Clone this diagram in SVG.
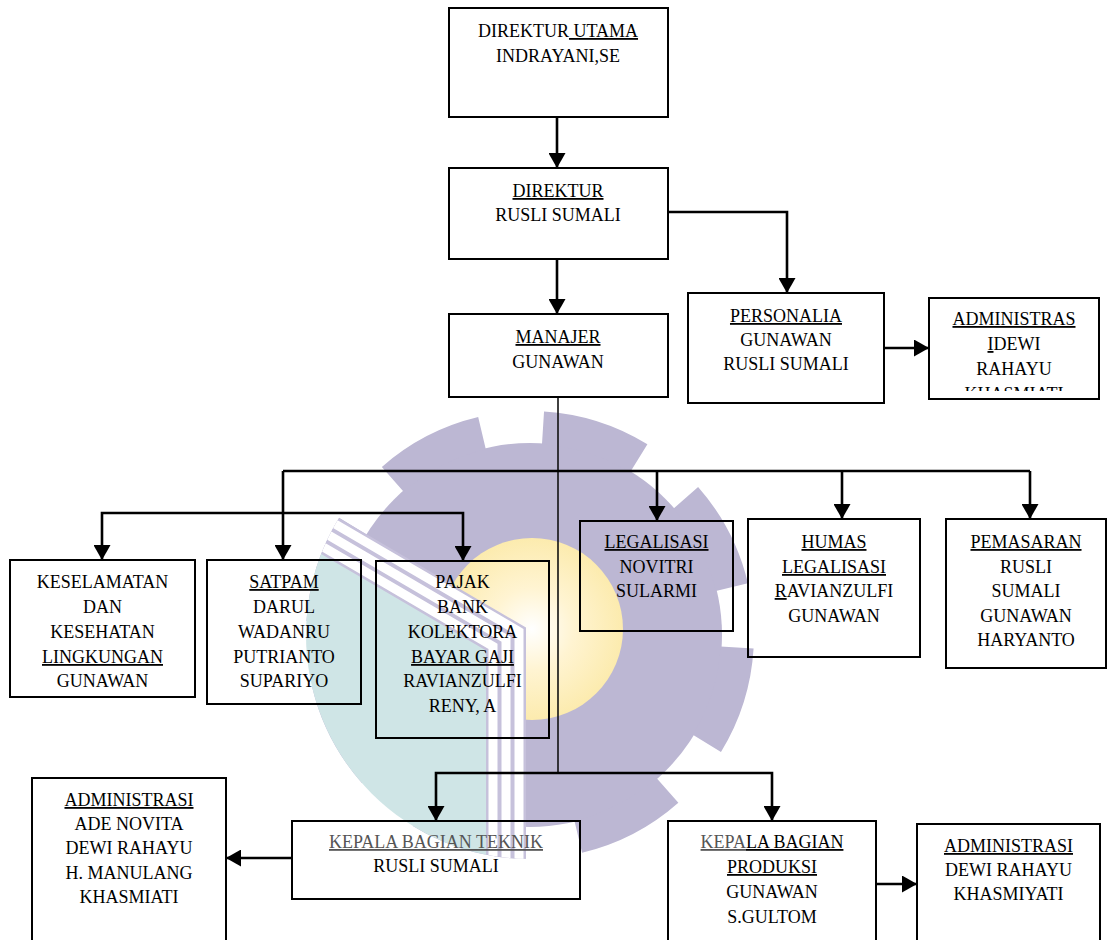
<svg xmlns="http://www.w3.org/2000/svg" width="1108" height="940" viewBox="0 0 1108 940">
<style>
.t{font-family:"Liberation Serif","Times New Roman",serif;font-size:18px;fill:#000;text-anchor:middle}
.u{text-decoration:underline}
.g{fill:#555}
.box{fill:none;stroke:#000;stroke-width:2}
.c{fill:none;stroke:#000;stroke-width:2.6}
.thin{fill:none;stroke:#111;stroke-width:1.6}
</style>
<defs>
<marker id="ah" viewBox="0 0 10 10" refX="10" refY="5" markerUnits="userSpaceOnUse" markerWidth="15" markerHeight="17" orient="auto" preserveAspectRatio="none">
<path d="M0,0 L10,5 L0,10 z" fill="#000"/>
</marker>
<clipPath id="logoClip"><circle cx="530" cy="635" r="224"/></clipPath>
<clipPath id="admClip"><rect x="929" y="298" width="170" height="93"/></clipPath>
<radialGradient id="sun" cx="0.5" cy="0.5" r="0.5">
<stop offset="0" stop-color="#ffffff"/>
<stop offset="0.45" stop-color="#fff4d2"/>
<stop offset="1" stop-color="#fcebae"/>
</radialGradient>
</defs>

<g id="watermark">
<circle cx="530" cy="635" r="192" fill="#bcb7d3"/>
<circle cx="530" cy="635" r="207.5" fill="none" stroke="#bcb7d3" stroke-width="33" stroke-dasharray="101.4 61.57" stroke-dashoffset="-12.68"/>
<circle cx="532" cy="629" r="91" fill="url(#sun)"/>
<g clip-path="url(#logoClip)">
<polygon points="200,482 308.4,545.4 487,649.9 487,900 200,900" fill="#cfe5e6"/>
<polyline points="318,529 506,639 506,880" fill="none" stroke="#c6c1db" stroke-width="40" stroke-linejoin="miter"/>
<polyline points="324.6,517.8 519,631.5 519,880" fill="none" stroke="#fff" stroke-width="9"/>
<polyline points="318,529 506,639 506,880" fill="none" stroke="#fff" stroke-width="9"/>
<polyline points="311.4,540.2 493,646.4 493,880" fill="none" stroke="#fff" stroke-width="9"/>
</g>
</g>

<g id="connectors">
<path class="c" d="M557,117 V168" marker-end="url(#ah)"/>
<path class="c" d="M557,259 V314" marker-end="url(#ah)"/>
<path class="c" d="M668,212 H787 V293" marker-end="url(#ah)"/>
<path class="c" d="M884,348 H929" marker-end="url(#ah)"/>
<path class="thin" d="M558,397 V773"/>
<path class="c" d="M283,471 H1030"/>
<path class="c" d="M283,471 V560" marker-end="url(#ah)"/>
<path class="c" d="M657,471 V521" marker-end="url(#ah)"/>
<path class="c" d="M842,471 V519" marker-end="url(#ah)"/>
<path class="c" d="M1030,471 V519" marker-end="url(#ah)"/>
<path class="c" d="M283,513 H102 V560" marker-end="url(#ah)"/>
<path class="c" d="M283,513 H463 V561" marker-end="url(#ah)"/>
<path class="c" d="M558,773 H436 V821" marker-end="url(#ah)"/>
<path class="c" d="M558,773 H772 V821" marker-end="url(#ah)"/>
<path class="c" d="M292,858 H226" marker-end="url(#ah)"/>
<path class="c" d="M876,884 H917" marker-end="url(#ah)"/>
</g>

<g id="direktur-utama">
<rect class="box" x="449" y="8" width="219" height="109"/>
<text class="t" x="558" y="37">DIREKTUR<tspan class="u"> UTAMA</tspan></text>
<text class="t" x="558" y="62">INDRAYANI,SE</text>
</g>
<g id="direktur">
<rect class="box" x="449" y="168" width="219" height="91"/>
<text class="t" x="558" y="197"><tspan class="u">DIREKTUR</tspan></text>
<text class="t" x="558" y="221">RUSLI SUMALI</text>
</g>
<g id="manajer">
<rect class="box" x="449" y="314" width="219" height="83"/>
<text class="t" x="558" y="343"><tspan class="u">MANAJER</tspan></text>
<text class="t" x="558" y="368">GUNAWAN</text>
</g>
<g id="personalia">
<rect class="box" x="688" y="293" width="196" height="110"/>
<text class="t" x="786" y="322"><tspan class="u">PERSONALIA</tspan></text>
<text class="t" x="786" y="346">GUNAWAN</text>
<text class="t" x="786" y="370">RUSLI SUMALI</text>
</g>
<g id="administras">
<rect class="box" x="929" y="298" width="170" height="101"/>
<g clip-path="url(#admClip)">
<text class="t" x="1014" y="325"><tspan class="u">ADMINISTRAS</tspan></text>
<text class="t" x="1014" y="350"><tspan class="u">I</tspan>DEWI</text>
<text class="t" x="1014" y="375">RAHAYU</text>
<text class="t" x="1014" y="400">KHASMIATI</text>
</g>
</g>
<g id="keselamatan">
<rect class="box" x="10" y="560" width="185" height="137"/>
<text class="t" x="102.5" y="588">KESELAMATAN</text>
<text class="t" x="102.5" y="613">DAN</text>
<text class="t" x="102.5" y="638">KESEHATAN</text>
<text class="t" x="102.5" y="663"><tspan class="u">LINGKUNGAN</tspan></text>
<text class="t" x="102.5" y="687">GUNAWAN</text>
</g>
<g id="satpam">
<rect class="box" x="207" y="560" width="154" height="144"/>
<text class="t" x="284" y="588"><tspan class="u">SATPAM</tspan></text>
<text class="t" x="284" y="613">DARUL</text>
<text class="t" x="284" y="638">WADANRU</text>
<text class="t" x="284" y="663">PUTRIANTO</text>
<text class="t" x="284" y="687">SUPARIYO</text>
</g>
<g id="pajak">
<rect class="box" x="376" y="561" width="173" height="177"/>
<text class="t" x="462.5" y="588">PAJAK</text>
<text class="t" x="462.5" y="613">BANK</text>
<text class="t" x="462.5" y="638">KOLEKTORA</text>
<text class="t" x="462.5" y="663"><tspan class="u">BAYAR GAJI</tspan></text>
<text class="t" x="462.5" y="687">RAVIANZULFI</text>
<text class="t" x="462.5" y="712">RENY, A</text>
</g>
<g id="legalisasi">
<rect class="box" x="580" y="521" width="153" height="110"/>
<text class="t" x="656.5" y="548"><tspan class="u">LEGALISASI</tspan></text>
<text class="t" x="656.5" y="573">NOVITRI</text>
<text class="t" x="656.5" y="597">SULARMI</text>
</g>
<g id="humas">
<rect class="box" x="748" y="519" width="172" height="138"/>
<text class="t" x="834" y="548"><tspan class="u">HUMAS</tspan></text>
<text class="t" x="834" y="573"><tspan class="u">LEGALISASI</tspan></text>
<text class="t" x="834" y="597"><tspan class="u">R</tspan>AVIANZULFI</text>
<text class="t" x="834" y="622">GUNAWAN</text>
</g>
<g id="pemasaran">
<rect class="box" x="946" y="519" width="160" height="149"/>
<text class="t" x="1026" y="548"><tspan class="u">PEMASARAN</tspan></text>
<text class="t" x="1026" y="573">RUSLI</text>
<text class="t" x="1026" y="597">SUMALI</text>
<text class="t" x="1026" y="622">GUNAWAN</text>
<text class="t" x="1026" y="646">HARYANTO</text>
</g>
<g id="administrasi-teknik">
<rect class="box" x="32" y="778" width="194" height="180"/>
<text class="t" x="129" y="806"><tspan class="u">ADMINISTRASI</tspan></text>
<text class="t" x="129" y="830">ADE NOVITA</text>
<text class="t" x="129" y="854">DEWI RAHAYU</text>
<text class="t" x="129" y="879">H. MANULANG</text>
<text class="t" x="129" y="903">KHASMIATI</text>
</g>
<g id="kepala-teknik">
<rect class="box" x="292" y="821" width="288" height="78"/>
<text class="t" x="436" y="848"><tspan class="u g">KEPALA BAGIAN TEKNIK</tspan></text>
<text class="t" x="436" y="872">RUSLI SUMALI</text>
</g>
<g id="kepala-produksi">
<rect class="box" x="668" y="821" width="208" height="140"/>
<text class="t" x="772" y="848"><tspan class="u g">KEPA</tspan><tspan class="u">LA BAGIAN</tspan></text>
<text class="t" x="772" y="873"><tspan class="u">PRODUKSI</tspan></text>
<text class="t" x="772" y="898">GUNAWAN</text>
<text class="t" x="772" y="923">S.GULTOM</text>
</g>
<g id="administrasi-produksi">
<rect class="box" x="917" y="824" width="183" height="140"/>
<text class="t" x="1008.5" y="852"><tspan class="u">ADMINISTRASI</tspan></text>
<text class="t" x="1008.5" y="876">DEWI RAHAYU</text>
<text class="t" x="1008.5" y="900">KHASMIYATI</text>
</g>
</svg>
